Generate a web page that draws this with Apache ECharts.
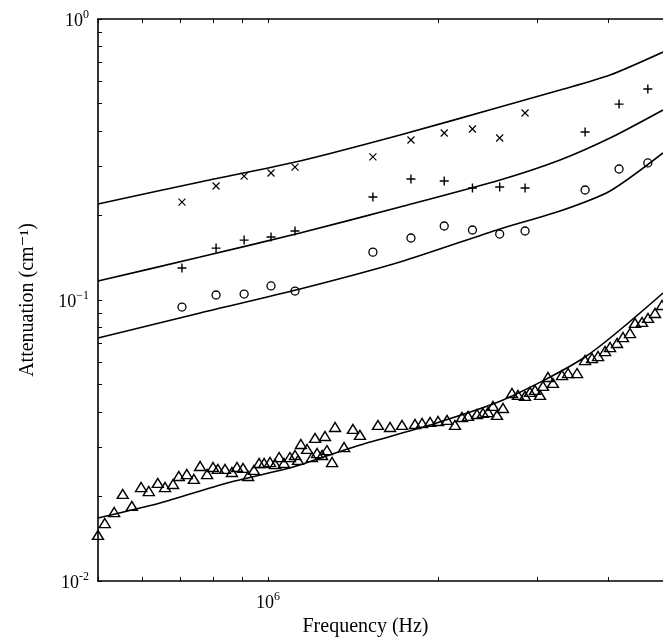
<!DOCTYPE html>
<html>
<head>
<meta charset="utf-8">
<script src="https://cdn.jsdelivr.net/npm/echarts@6/dist/echarts.min.js"></script>
<style>html,body{margin:0;padding:0;background:#fff;}#c{width:663px;height:643px;}</style>
</head>
<body>
<div id="c"></div>
<script>
// ---- data (frequency in MHz, attenuation in cm^-1) ----
const markerFreqMHz = [0.704,0.809,0.907,1.012,1.116,1.533,1.79,2.05,2.30,2.57,2.85,3.64,4.18,4.70];
const crossAtt = [0.223,0.2545,0.276,0.283,0.297,0.323,0.371,0.393,0.406,0.377,0.463];
const plusAtt = [0.130,0.153,0.1634,0.1676,0.176,0.2326,0.2696,0.265,0.2504,0.2524,0.2504,0.396,0.498,0.5636];
const circleAtt = [0.0944,0.1042,0.105,0.1122,0.1076,0.148,0.1662,0.1834,0.1775,0.1717,0.176,0.2463,0.2925,0.3074];

const triFreqMHz = [0.500,0.514,0.534,0.553,0.574,0.596,0.615,0.638,0.657,0.679,
  0.695,0.718,0.739,0.758,0.780,0.799,0.815,0.839,0.863,0.881,
  0.903,0.922,0.944,0.964,0.984,1.008,1.029,1.046,1.067,1.093,
  1.116,1.130,1.143,1.172,1.196,1.211,1.221,1.246,1.261,1.271,
  1.298,1.314,1.363,1.413,1.454,
  1.565,1.644,1.726,1.820,1.873,1.935,1.999,2.074,2.142,2.204,
  2.259,2.343,2.401,2.451,2.501,2.542,2.605,2.702,2.769,2.849,
  2.907,2.968,3.029,3.066,3.129,3.193,3.313,3.396,3.522,3.639,
  3.744,3.837,3.948,4.029,4.146,4.248,4.371,4.461,4.591,4.704,
  4.840,4.980];
const triAtt = [0.01458,0.01608,0.01760,0.02041,0.01849,0.02160,0.02090,0.02233,0.02160,0.02214,
  0.02364,0.02403,0.02307,0.02566,0.02403,0.02545,0.02504,0.02504,0.02443,0.02545,
  0.02525,0.02364,0.02484,0.02630,0.02630,0.02651,0.02608,0.02761,0.02630,0.02761,
  0.02808,0.02696,0.03073,0.02950,0.02761,0.03228,0.02854,0.02808,0.03281,0.02924,
  0.02651,0.03532,0.02998,0.03475,0.03311,
  0.03591,0.03532,0.03591,0.03620,0.03650,0.03681,0.03710,0.03741,0.03591,0.03834,
  0.03866,0.03929,0.03962,0.03993,0.04197,0.03899,0.04127,0.04667,0.04592,0.04554,
  0.04706,0.04784,0.04592,0.04943,0.05321,0.05067,0.05407,0.05496,0.05496,0.06115,
  0.06216,0.06318,0.06583,0.06802,0.07030,0.07383,0.07630,0.08284,0.08353,0.08630,
  0.08990,0.09599];

const curveFreqMHz = [0.5,0.758,1.139,1.712,2.573,3.287,4.029,5.0];
const upperCurve = [0.2197,0.263,0.3124,0.3865,0.486,0.5587,0.632,0.763];
const middleCurve = [0.1168,0.1422,0.1731,0.2143,0.2674,0.315,0.377,0.4744];
const lowerCurve = [0.0732,0.0899,0.1094,0.1365,0.179,0.2073,0.2443,0.3336];
const triCurveFreqMHz = [0.5,0.644,0.846,1.107,1.454,1.935,2.605,3.639,5.0];
const triCurve = [0.01676,0.01895,0.02233,0.02545,0.03048,0.03591,0.04406,0.06267,0.1059];

const xTickValues = [5e5,6e5,7e5,8e5,9e5,1e6,2e6,3e6,4e6,5e6];
const xLabelValues = [1e6];
const yTickValues = [0.01,0.02,0.03,0.04,0.05,0.06,0.07,0.08,0.09,0.1,0.2,0.3,0.4,0.5,0.6,0.7,0.8,0.9,1];
const yLabelValues = [0.01,0.1,1];
const yLabelText = {'0.01':'-2','0.1':'\u22121','1':'0'};

// ---- build ----
const pair = (fs, as) => as.map((a, i) => [fs[i] * 1e6, a]);
const font = '"Liberation Serif","DejaVu Serif",serif';
const rich = {
  b: {fontFamily: font, fontSize: 18, color: '#000', verticalAlign: 'bottom', lineHeight: 22},
  s: {fontFamily: font, fontSize: 12, color: '#000', verticalAlign: 'bottom', lineHeight: 22, padding: [0,0,9,0]}
};
const lineStyle = {color: '#000', width: 1.6};
const curve = (fs, as) => ({type: 'line', data: pair(fs, as), symbol: 'none', smooth: 0.25, lineStyle, silent: true, clip: true});
const scatter = (fs, as, symbol, size, bw) => ({
  type: 'scatter', data: pair(fs, as), symbol, symbolSize: size, clip: false, silent: true,
  itemStyle: {color: 'none', borderColor: '#000', borderWidth: bw, opacity: 1}
});

const chart = echarts.init(document.getElementById('c'), null, {renderer: 'canvas'});
chart.setOption({
  animation: false,
  backgroundColor: '#fff',
  grid: {left: 98, right: 0, top: 19, bottom: 62, containLabel: false},
  xAxis: [{
    type: 'log', logBase: 10, min: 5e5, max: 5e6, position: 'bottom',
    axisLine: {show: true, lineStyle: {color: '#000', width: 1.6}},
    axisTick: {show: true, inside: true, length: 4, customValues: xTickValues, lineStyle: {color: '#000', width: 1}},
    axisLabel: {show: true, customValues: xLabelValues, margin: 9, formatter: v => '{b|10}{s|' + Math.round(Math.log10(v)) + '}', rich},
    splitLine: {show: false},
    name: 'Frequency (Hz)', nameLocation: 'middle', nameGap: 36,
    nameTextStyle: {fontFamily: font, fontSize: 20, color: '#000', padding: [0, 30, 0, 0]}
  }, {
    type: 'log', logBase: 10, min: 5e5, max: 5e6, position: 'top',
    axisLine: {show: true, lineStyle: {color: '#000', width: 1.6}},
    axisTick: {show: true, inside: true, length: 4, customValues: xTickValues, lineStyle: {color: '#000', width: 1}},
    axisLabel: {show: false}, splitLine: {show: false}
  }],
  yAxis: [{
    type: 'log', logBase: 10, min: 0.01, max: 1, position: 'left',
    axisLine: {show: true, lineStyle: {color: '#000', width: 1.6}},
    axisTick: {show: true, inside: true, length: 4, customValues: yTickValues, lineStyle: {color: '#000', width: 1}},
    axisLabel: {show: true, customValues: yLabelValues, margin: 9,
      formatter: v => '{b|10}{s|' + yLabelText[String(+v.toPrecision(3))] + '}', rich},
    splitLine: {show: false},
    name: 'Attenuation (cm\u207B\u00B9)', nameLocation: 'middle', nameGap: 60, nameRotate: 90,
    nameTextStyle: {fontFamily: font, fontSize: 20, color: '#000'}
  }],
  series: [
    curve(curveFreqMHz, upperCurve),
    curve(curveFreqMHz, middleCurve),
    curve(curveFreqMHz, lowerCurve),
    curve(triCurveFreqMHz, triCurve),
    scatter(markerFreqMHz, crossAtt, 'path://M0,0L10,10M10,0L0,10', 7, 1.2),
    scatter(markerFreqMHz, plusAtt, 'path://M5,0L5,10M0,5L10,5', 9, 1.4),
    scatter(markerFreqMHz, circleAtt, 'circle', 8, 1.3),
    scatter(triFreqMHz, triAtt, 'triangle', [11, 9], 1.4)
  ]
});
</script>
</body>
</html>
